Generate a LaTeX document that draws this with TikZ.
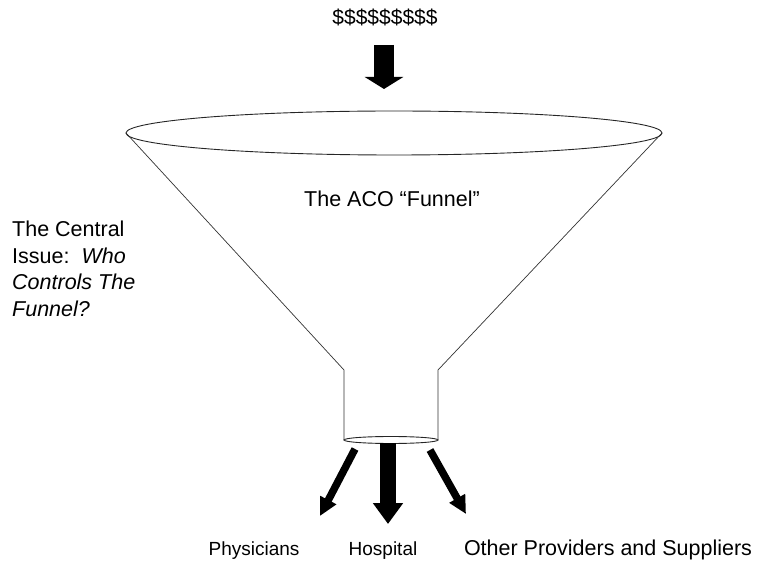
\documentclass[tikz,border=0pt]{standalone}
\usepackage{fontspec}
\setmainfont{Liberation Sans}
\usetikzlibrary{arrows.meta}
\begin{document}
\begin{tikzpicture}[x=1pt,y=-1pt,
  rim/.style={draw=black!85,line width=0.9pt},
  side/.style={draw=black!80,line width=0.7pt},
  bigarrow/.style={line width=20pt,-{Triangle[width=38pt,length=12pt]}},
  midarrow/.style={line width=16pt,-{Triangle[width=29pt,length=21pt]}},
  thinarrow/.style={line width=7.5pt,-{Triangle[width=17pt,length=18pt]}},
  lbl/.style={inner sep=0pt,anchor=base},
]
\useasboundingbox (0,0) rectangle (758,561);

% money label and inflow arrow
\node[lbl,font=\fontsize{21}{25}\selectfont] (money) at (385,25) {\$\$\$\$\$\$\$\$\$};
\coordinate (inTop) at (384,45);
\coordinate (inTip) at (384,89);
\draw[bigarrow] (inTop) -- (inTip);

% funnel: mouth, sloping sides, neck and outlet
\coordinate (mouthL) at (126,133);
\coordinate (mouthR) at (662,133);
\coordinate (neckL) at (344,370);
\coordinate (neckR) at (438,370);
\coordinate (outL) at (344,440);
\coordinate (outR) at (438,440);
\draw[side] (mouthL) -- (neckL) -- (outL);
\draw[side] (mouthR) -- (neckR) -- (outR);
\draw[rim] (394,133) ellipse [x radius=268, y radius=22];
\draw[rim,fill=white] (391,440) ellipse [x radius=47, y radius=3.5];

\node[lbl,font=\fontsize{21.5}{26}\selectfont] (title) at (392,207) {The ACO “Funnel”};

\node[inner sep=0pt,anchor=north west,align=left,font=\fontsize{21.5}{26.5}\selectfont] (issue) at (12,221)
  {The Central\\Issue:\ \ \textit{Who}\\\textit{Controls The}\\\textit{Funnel?}};

% outflow arrows
\coordinate (phyTop) at (355,449);
\coordinate (phyTip) at (320,516);
\coordinate (hosTop) at (388,443);
\coordinate (hosTip) at (388,524);
\coordinate (othTop) at (430,450);
\coordinate (othTip) at (466,514);
\draw[thinarrow] (phyTop) -- (phyTip);
\draw[midarrow] (hosTop) -- (hosTip);
\draw[thinarrow] (othTop) -- (othTip);

% recipients
\node[lbl,font=\fontsize{19}{23}\selectfont] (phy) at (254,555) {Physicians};
\node[lbl,font=\fontsize{19}{23}\selectfont] (hos) at (383,555) {Hospital};
\node[lbl,font=\fontsize{21.5}{26}\selectfont] (oth) at (608,555) {Other Providers and Suppliers};
\end{tikzpicture}
\end{document}
